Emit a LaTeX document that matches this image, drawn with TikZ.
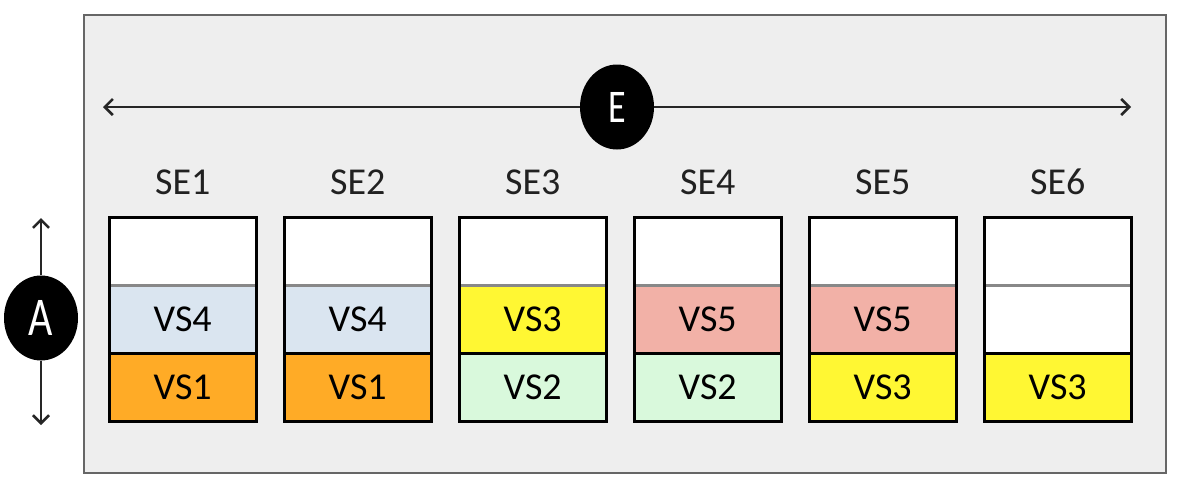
\documentclass[tikz,border=0pt]{standalone}
\usepackage{fontspec}
\setmainfont{Carlito}
\usetikzlibrary{arrows.meta,shapes.geometric,calc}
\definecolor{panel}{HTML}{EEEEEE}
\definecolor{panelborder}{HTML}{666666}
\definecolor{vsorange}{HTML}{FFAB26}
\definecolor{vsblue}{HTML}{DAE5F0}
\definecolor{vsyellow}{HTML}{FFF733}
\definecolor{vsgreen}{HTML}{D9F9DC}
\definecolor{vssalmon}{HTML}{F2B1A7}
\definecolor{sepgray}{HTML}{888888}
\tikzset{
  cell/.style={draw=none, minimum width=147pt, minimum height=68pt, inner sep=0pt, anchor=north west, font=\fontsize{38}{40}\selectfont},
  selabel/.style={font=\fontsize{38}{40}\selectfont, text=black!87, inner sep=0pt},
  marker/.style={ellipse, fill=black, minimum width=74pt, minimum height=85pt, inner sep=0pt, text=white},
  dim/.style={draw=black!85, line width=2.6pt, -{Straight Barb[length=8pt,width=16pt,line width=2.6pt]}},
  outer/.style={draw=black, line width=3pt},
}
\begin{document}
\begin{tikzpicture}[x=1pt,y=-1pt]
\useasboundingbox (0,0) rectangle (1178,488);
\node[draw=panelborder, fill=panel, line width=2pt, minimum width=1082pt, minimum height=458pt, inner sep=0pt, anchor=north west] (panel) at (83,14) {};
% E arrow
\node[marker] (E) at (617,107) {\fontsize{36}{40}\selectfont\scalebox{1}[1.3]{E}};
\coordinate (eL) at (103,107);
\coordinate (eR) at (1131,107);
\draw[dim] (E) -- (eL);
\draw[dim] (E) -- (eR);
% A arrow
\node[marker] (A) at (41,318) {\fontsize{42}{44}\selectfont\scalebox{1}[1.3]{A}};
\coordinate (aT) at (41,218);
\coordinate (aB) at (41,425);
\draw[dim] (A) -- (aT);
\draw[dim] (A) -- (aB);
% columns
\foreach \i/\m/\b/\mc/\bc in {1/VS4/VS1/vsblue/vsorange, 2/VS4/VS1/vsblue/vsorange, 3/VS3/VS2/vsyellow/vsgreen, 4/VS5/VS2/vssalmon/vsgreen, 5/VS5/VS3/vssalmon/vsyellow, 6/{}/VS3/white/vsyellow}{
  \pgfmathsetmacro{\xx}{109+175*(\i-1)}
  \node[cell, fill=white] (c\i t) at (\xx,217) {};
  \node[cell, fill=\mc] (c\i m) at (\xx,285) {\m};
  \node[cell, fill=\bc] (c\i b) at (\xx,353) {\b};
  \draw[sepgray, line width=2.5pt] (c\i t.south west) -- (c\i t.south east);
  \draw[black, line width=2.5pt] (c\i m.south west) -- (c\i m.south east);
  \draw[outer] (c\i t.north west) rectangle (c\i b.south east);
  \node[selabel] (se\i) at ($(c\i t.north)+(0,-35)$) {SE\i};
}
\end{tikzpicture}
\end{document}
